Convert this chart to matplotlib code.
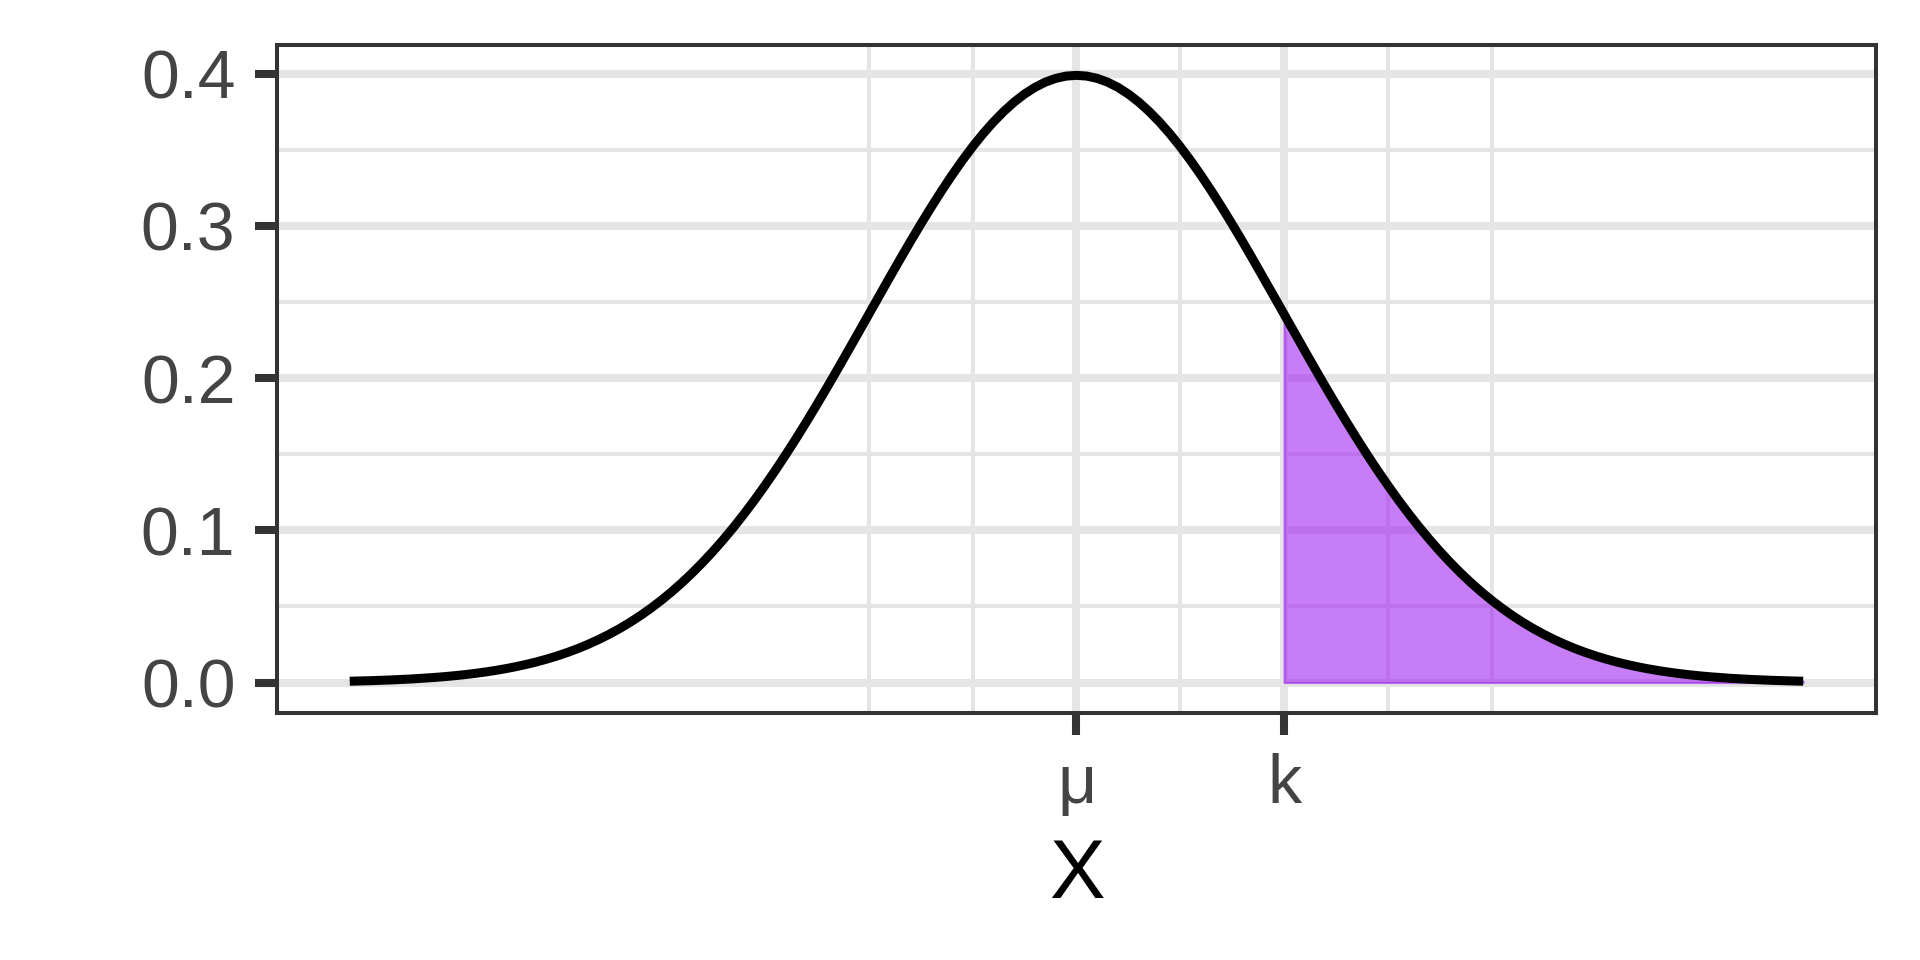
import numpy as np
import matplotlib
matplotlib.use('Agg')
import matplotlib.pyplot as plt

# Density curve (step 0.05 from -3.5 to 3.5)
x_vals = np.linspace(-3.5, 3.5, 141)
density = [
    0.00087, 0.00104, 0.00123, 0.00146, 0.00172, 0.00203, 0.00238, 0.00279, 0.00327, 0.00381,
    0.00443, 0.00514, 0.00595, 0.00687, 0.00792, 0.00909, 0.01042, 0.01191, 0.01358, 0.01545,
    0.01753, 0.01984, 0.02239, 0.02522, 0.02833, 0.03174, 0.03547, 0.03955, 0.04398, 0.04879,
    0.05399, 0.05959, 0.06562, 0.07206, 0.07895, 0.08628, 0.09405, 0.10226, 0.11092, 0.12001,
    0.12952, 0.13943, 0.14973, 0.16038, 0.17137, 0.18265, 0.19419, 0.20594, 0.21785, 0.22988,
    0.24197, 0.25406, 0.26609, 0.27798, 0.28969, 0.30114, 0.31225, 0.32297, 0.33322, 0.34294,
    0.35207, 0.36053, 0.36827, 0.37524, 0.38139, 0.38667, 0.39104, 0.39448, 0.39695, 0.39844,
    0.39894,
    0.39844, 0.39695, 0.39448, 0.39104, 0.38667, 0.38139, 0.37524, 0.36827, 0.36053, 0.35207,
    0.34294, 0.33322, 0.32297, 0.31225, 0.30114, 0.28969, 0.27798, 0.26609, 0.25406, 0.24197,
    0.22988, 0.21785, 0.20594, 0.19419, 0.18265, 0.17137, 0.16038, 0.14973, 0.13943, 0.12952,
    0.12001, 0.11092, 0.10226, 0.09405, 0.08628, 0.07895, 0.07206, 0.06562, 0.05959, 0.05399,
    0.04879, 0.04398, 0.03955, 0.03547, 0.03174, 0.02833, 0.02522, 0.02239, 0.01984, 0.01753,
    0.01545, 0.01358, 0.01191, 0.01042, 0.00909, 0.00792, 0.00687, 0.00595, 0.00514, 0.00443,
    0.00381, 0.00327, 0.00279, 0.00238, 0.00203, 0.00172, 0.00146, 0.00123, 0.00104, 0.00087,
]
density = np.array(density)

# Axis breaks and labels
x_breaks = [0, 1]
x_labels = ['μ', 'k']
x_minor = [-1, -0.5, 0.5, 1.5, 2]
y_breaks = [0.0, 0.1, 0.2, 0.3, 0.4]
y_labels = ['0.0', '0.1', '0.2', '0.3', '0.4']
y_minor = [0.05, 0.15, 0.25, 0.35]
k_value = 1

plt.rcParams['font.family'] = ['Liberation Sans', 'DejaVu Sans']

fig = plt.figure(figsize=(19.2, 9.6), dpi=100)
ax = fig.add_axes([0.1443, 0.2573, 0.977 - 0.1443, 0.953 - 0.2573])

grid_col = '#e5e5e5'
for x in x_minor:
    ax.axvline(x, color=grid_col, linewidth=2.9, zorder=0)
for y in y_minor:
    ax.axhline(y, color=grid_col, linewidth=2.9, zorder=0)
for x in x_breaks:
    ax.axvline(x, color=grid_col, linewidth=5.8, zorder=0)
for y in y_breaks:
    ax.axhline(y, color=grid_col, linewidth=5.8, zorder=0)

# shaded tail beyond k
mask = x_vals >= k_value - 1e-9
ax.fill_between(x_vals[mask], 0, density[mask], facecolor='#a020f0', alpha=0.58,
                edgecolor='#a020f0', linewidth=1.5, zorder=2)

ax.plot(x_vals, density, color='black', linewidth=6.5, solid_capstyle='butt',
        solid_joinstyle='round', zorder=3)

ax.set_xlim(-3.85, 3.85)
ax.set_ylim(-0.02, 0.4188)
ax.set_xticks(x_breaks)
ax.set_xticklabels(x_labels)
ax.set_yticks(y_breaks)
ax.set_yticklabels(y_labels)
ax.tick_params(axis='both', length=16, width=5.8, color='#333333',
               labelsize=49, labelcolor='#444444')
ax.tick_params(axis='y', pad=14)
ax.tick_params(axis='x', pad=13)
ax.set_xlabel('X', fontsize=60, color='black', labelpad=14)

for spine in ax.spines.values():
    spine.set_color('#333333')
    spine.set_linewidth(2.9)

plt.savefig('out.png', dpi=100)
